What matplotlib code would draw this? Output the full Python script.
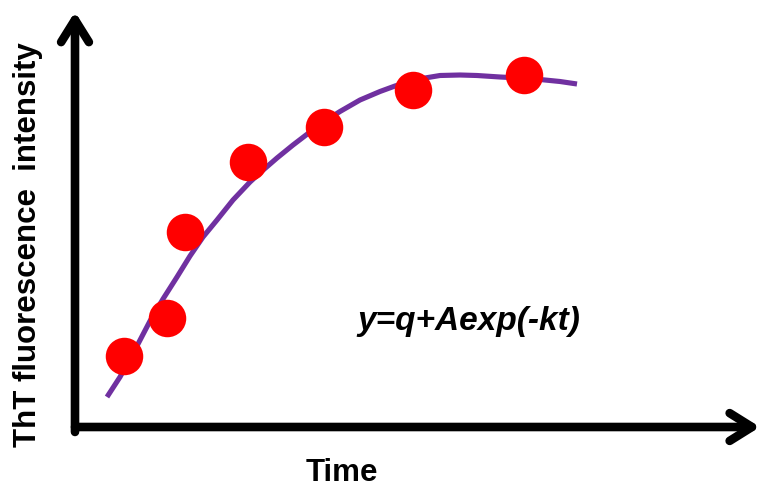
import matplotlib.pyplot as plt

plt.rcParams['font.family'] = ['Liberation Sans', 'DejaVu Sans']

# measured points (arbitrary units)
time_pts = [4.93, 9.17, 11.0, 17.33, 24.9, 33.83, 44.9]
tht_pts = [7.13, 10.93, 19.53, 26.53, 30.03, 33.7, 35.2]

# fitted curve
time_fit = [3.2, 4.5, 6.3, 7.5, 8.8, 10.2, 11.5, 12.8, 14.2, 15.8, 17.5, 18.7,
            20.2, 21.8, 23.5, 25.0, 26.5, 28.5, 30.5, 32.0, 33.5, 35.0, 36.5,
            38.5, 40.2, 42.5, 44.5, 46.5, 48.5, 50.2]
tht_fit = [3.0, 5.0, 8.3, 10.6, 12.8, 15.0, 17.1, 19.0, 20.7, 22.7, 24.5, 25.6,
           26.9, 28.2, 29.5, 30.6, 31.55, 32.7, 33.55, 34.1, 34.55, 34.9, 35.15,
           35.2, 35.15, 35.0, 34.9, 34.75, 34.55, 34.3]

fig = plt.figure(figsize=(7.63, 4.88), dpi=100)
# axes box matches the arrow lines (pixels: x 75..760, y 13..427)
ax = fig.add_axes([75 / 763, 61 / 488, 685 / 763, 414 / 488])
ax.set_xlim(0, 68.5)
ax.set_ylim(0, 41.4)
ax.axis('off')

ax.plot(time_fit, tht_fit, color='#7030A0', lw=3.7, solid_capstyle='butt',
        solid_joinstyle='round', zorder=2)
ax.plot(time_pts, tht_pts, 'o', color='#FF0000', ms=27, mec='none', zorder=3)

# axis arrows
arrow = dict(arrowstyle='->,head_length=1.6,head_width=1.0', lw=6.2,
             color='black', mutation_scale=10, shrinkA=0, shrinkB=0,
             joinstyle='round', capstyle='round')
ax.annotate('', xy=(0, 1.003), xytext=(0, -0.012), xycoords='axes fraction',
            arrowprops=arrow, annotation_clip=False)
ax.annotate('', xy=(1.0, 0), xytext=(0.0, 0), xycoords='axes fraction',
            arrowprops=arrow, annotation_clip=False)

fig.text(342 / 763, 1 - 481 / 488, 'Time', fontsize=22.5, fontweight='bold',
         ha='center', va='baseline')
fig.text(28 / 763, 1 - 245 / 488, 'ThT fluorescence  intensity',
         fontsize=22.5, fontweight='bold', rotation=90, ha='center',
         va='center')
fig.text(469 / 763, 1 - 330 / 488, 'y=q+Aexp(-kt)', fontsize=24,
         fontweight='bold', fontstyle='italic', ha='center', va='baseline')

fig.savefig('out.png', dpi=100)
